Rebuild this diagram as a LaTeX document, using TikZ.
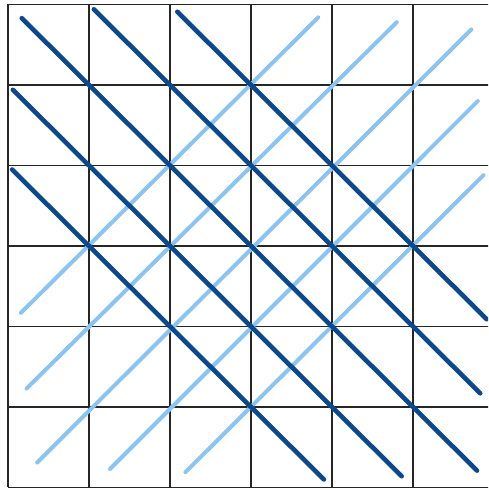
\documentclass[tikz,border=0pt]{standalone}
\definecolor{darkblue}{RGB}{12,72,140}
\definecolor{lightblue}{RGB}{140,196,240}
\tikzset{
  gridline/.style={draw=black!85, line width=1.6pt},
  lightline/.style={draw=lightblue, line width=4pt, line cap=round},
  darkline/.style={draw=darkblue, line width=4.6pt, line cap=round}
}
\begin{document}
\begin{tikzpicture}[x=1pt,y=1pt]
\useasboundingbox (0,0) rectangle (488,490);
\fill[white] (0,0) rectangle (488,490);
\clip (0,0) rectangle (488,490);
\begin{scope}[shift={(8,485.5)}, x=81pt, y=-80.5pt]
  % grid
  \foreach \i in {0,...,6} {
    \draw[gridline] (\i,0) -- (\i,6);
    \draw[gridline] (0,\i) -- (6,\i);
  }
  % light ascending lines
  \draw[lightline] (3.83,0.16) -- (0.16,3.83);
  \draw[lightline] (4.80,0.22) -- (0.23,4.77);
  \draw[lightline] (5.72,0.31) -- (0.36,5.69);
  \draw[lightline] (5.80,1.20) -- (1.26,5.77);
  \draw[lightline] (5.87,2.12) -- (2.19,5.81);
  % dark descending lines
  \draw[darkline] (0.17,0.17) -- (5.79,5.79);
  \draw[darkline] (1.06,0.06) -- (5.83,4.83);
  \draw[darkline] (2.09,0.09) -- (5.91,3.91);
  \draw[darkline] (0.06,1.06) -- (4.86,5.86);
  \draw[darkline] (0.05,2.05) -- (3.90,5.90);
\end{scope}
\end{tikzpicture}
\end{document}
